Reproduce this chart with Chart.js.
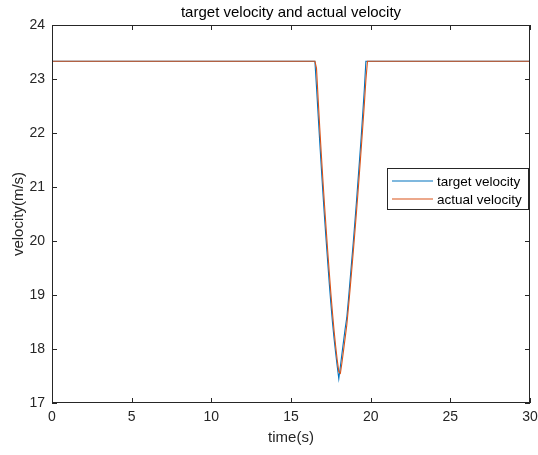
<!DOCTYPE html>
<html>
<head>
<meta charset="utf-8">
<script src="https://cdn.jsdelivr.net/npm/chart.js@4/dist/chart.umd.min.js"></script>
<style>
  html, body { margin: 0; padding: 0; background: #fff; }
  #wrap { width: 538px; height: 455px; }
</style>
</head>
<body>
<div id="wrap"><canvas id="velocityChart" width="538" height="455"></canvas></div>
<script>
// time samples (s)
const time = [0, 16.5, 16.6, 16.7, 16.8, 16.9, 17.0, 17.1, 17.2, 17.3, 17.4, 17.5, 17.6, 17.7, 17.8, 17.9,
  18.0, 18.1, 18.2, 18.3, 18.4, 18.5, 18.6, 18.7, 18.8, 18.9, 19.0, 19.1, 19.2, 19.3, 19.4, 19.5, 19.6, 19.7, 19.8, 30];

const targetVelocity = [23.33, 23.33, 22.85, 22.35, 21.85, 21.37, 20.90, 20.45, 20.03, 19.62, 19.22, 18.85, 18.50, 18.20, 17.93, 17.68,
  17.45, 17.68, 17.92, 18.15, 18.38, 18.58, 18.90, 19.25, 19.60, 19.95, 20.32, 20.70, 21.10, 21.50, 21.90, 22.35, 22.80, 23.33, 23.33, 23.33];

const actualVelocity = [23.33, 23.33, 23.20, 22.65, 22.12, 21.62, 21.14, 20.68, 20.25, 19.83, 19.43, 19.04, 18.68, 18.35, 18.06, 17.80,
  17.58, 17.55, 17.75, 17.98, 18.21, 18.44, 18.75, 19.08, 19.42, 19.77, 20.13, 20.50, 20.88, 21.28, 21.68, 22.10, 22.52, 22.98, 23.33, 23.33];

const seriesLabels = ['target velocity', 'actual velocity'];
const xTicks = [0, 5, 10, 15, 20, 25, 30];
const yTicks = [17, 18, 19, 20, 21, 22, 23, 24];

const blue = '#0072BD';
const orange = '#D95319';
const axisColor = '#262626';
const fontFam = '"Liberation Sans", Arial, Helvetica, sans-serif';

// box, inward ticks, title, axis labels and legend, MATLAB style
const matlabAxes = {
  id: 'matlabAxes',
  afterDraw(chart) {
    const ctx = chart.ctx;
    const a = chart.chartArea;
    const xs = chart.scales.x, ys = chart.scales.y;
    ctx.save();
    ctx.strokeStyle = axisColor;
    ctx.lineWidth = 1;
    ctx.strokeRect(a.left + 0.5, a.top + 0.5, a.right - a.left - 1, a.bottom - a.top - 1);
    ctx.beginPath();
    xTicks.forEach(v => {
      const px = Math.round(xs.getPixelForValue(v)) + 0.5;
      ctx.moveTo(px, a.bottom); ctx.lineTo(px, a.bottom - 5);
      ctx.moveTo(px, a.top); ctx.lineTo(px, a.top + 5);
    });
    yTicks.forEach(v => {
      const py = Math.round(ys.getPixelForValue(v)) + 0.5;
      ctx.moveTo(a.left, py); ctx.lineTo(a.left + 5, py);
      ctx.moveTo(a.right, py); ctx.lineTo(a.right - 5, py);
    });
    ctx.stroke();

    // title
    ctx.fillStyle = '#000';
    ctx.font = '15px ' + fontFam;
    ctx.textAlign = 'center';
    ctx.textBaseline = 'middle';
    ctx.fillText('target velocity and actual velocity', (a.left + a.right) / 2, 13);

    // axis titles
    ctx.fillStyle = axisColor;
    ctx.font = '15px ' + fontFam;
    ctx.fillText('time(s)', (a.left + a.right) / 2, 438);
    ctx.save();
    ctx.translate(19, (a.top + a.bottom) / 2);
    ctx.rotate(-Math.PI / 2);
    ctx.fillText('velocity(m/s)', 0, 0);
    ctx.restore();

    // legend
    const lx = 387, ly = 168, lw = 141, lh = 41;
    ctx.fillStyle = '#fff';
    ctx.fillRect(lx, ly, lw, lh);
    ctx.lineWidth = 1;
    ctx.strokeStyle = axisColor;
    ctx.strokeRect(lx + 0.5, ly + 0.5, lw, lh);
    ctx.font = '13.5px ' + fontFam;
    ctx.textAlign = 'left';
    [blue, orange].forEach((c, i) => {
      const yy = ly + 13 + i * 18;
      ctx.beginPath();
      ctx.strokeStyle = c;
      ctx.lineWidth = 1.2;
      ctx.moveTo(lx + 5, yy);
      ctx.lineTo(lx + 46, yy);
      ctx.stroke();
      ctx.fillStyle = '#000';
      ctx.fillText(seriesLabels[i], lx + 50, yy + 1);
    });
    ctx.restore();
  }
};

const velocityCtx = document.getElementById('velocityChart').getContext('2d');
new Chart(velocityCtx, {
  type: 'line',
  data: {
    datasets: [{
      label: seriesLabels[0],
      data: time.map((t, i) => ({ x: t, y: targetVelocity[i] })),
      borderColor: blue,
      borderWidth: 1.1,
      pointRadius: 0,
      tension: 0,
      order: 1
    }, {
      label: seriesLabels[1],
      data: time.map((t, i) => ({ x: t, y: actualVelocity[i] })),
      borderColor: orange,
      borderWidth: 1.1,
      pointRadius: 0,
      tension: 0,
      order: 0
    }]
  },
  options: {
    responsive: false,
    animation: false,
    events: [],
    layout: { padding: { top: 25, right: 8, left: 0, bottom: 0 } },
    plugins: { legend: { display: false }, tooltip: { enabled: false }, title: { display: false } },
    scales: {
      x: {
        type: 'linear', min: 0, max: 30,
        afterBuildTicks: s => { s.ticks = xTicks.map(v => ({ value: v })); },
        afterFit: s => { s.height = 52; s.paddingLeft = 0; s.paddingRight = 0; },
        grid: { display: false, drawTicks: false },
        border: { display: false },
        ticks: { color: axisColor, font: { size: 14, family: fontFam }, padding: 6, maxRotation: 0 }
      },
      y: {
        type: 'linear', min: 17, max: 24,
        afterBuildTicks: s => { s.ticks = yTicks.map(v => ({ value: v })); },
        afterFit: s => { s.width = 52; s.paddingTop = 0; s.paddingBottom = 0; },
        grid: { display: false, drawTicks: false },
        border: { display: false },
        ticks: { color: axisColor, font: { size: 14, family: fontFam }, padding: 7 }
      }
    }
  },
  plugins: [matlabAxes]
});
</script>
</body>
</html>
